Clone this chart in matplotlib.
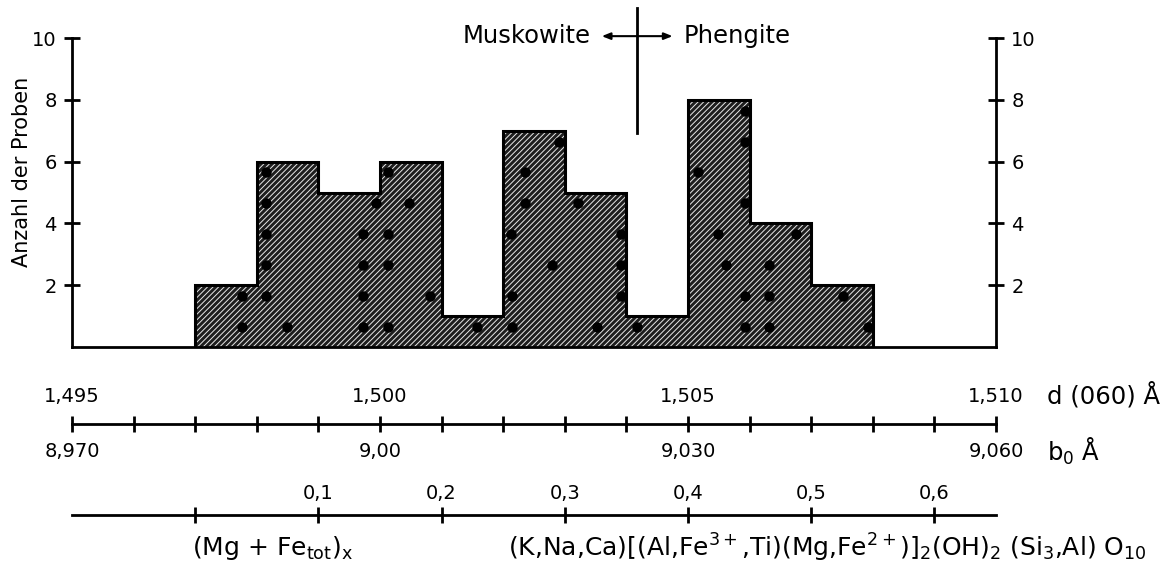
import numpy as np
import matplotlib
matplotlib.use("Agg")
import matplotlib.pyplot as plt

# histogram of d(060) values, bins of 0.001 A
bin_edges = [1.497, 1.498, 1.499, 1.500, 1.501, 1.502, 1.503, 1.504, 1.505, 1.506, 1.507, 1.508]
counts = [2, 6, 5, 6, 1, 7, 5, 1, 8, 4, 2]

# single samples (dots): d(060) value and stack level in its bin
dot_d = [1.49776, 1.49776,
         1.49849, 1.49815, 1.49815, 1.49815, 1.49815, 1.49815,
         1.49972, 1.49972, 1.49972, 1.49972, 1.49993,
         1.50013, 1.50081, 1.50013, 1.50013, 1.50047, 1.50013,
         1.50157,
         1.50214, 1.50214, 1.50280, 1.50212, 1.50235, 1.50235, 1.50290,
         1.50352, 1.50392, 1.50392, 1.50392, 1.50321,
         1.50418,
         1.50592, 1.50592, 1.50562, 1.50548, 1.50592, 1.50517, 1.50592, 1.50592,
         1.50632, 1.50632, 1.50632, 1.50676,
         1.50793, 1.50751]
dot_level = [0, 1,
             0, 1, 2, 3, 4, 5,
             0, 1, 2, 3, 4,
             0, 1, 2, 3, 4, 5,
             0,
             0, 1, 2, 3, 4, 5, 6,
             0, 1, 2, 3, 4,
             0,
             0, 1, 2, 3, 4, 5, 6, 7,
             0, 1, 2, 3,
             0, 1]

d_range = (1.495, 1.510)
d_ticks = np.round(np.arange(1.495, 1.5105, 0.001), 3)
d_labels = ["1,495", "1,500", "1,505", "1,510"]
b0_ticks = [8.970, 9.000, 9.030, 9.060]
b0_labels = ["8,970", "9,00", "9,030", "9,060"]

# (Mg + Fe_tot)_x scale: 0 at d = 1.497, 0.1 per 0.002 A
comp_zero_d = 1.497
comp_per_d = 50.0
comp_ticks = [0.0, 0.1, 0.2, 0.3, 0.4, 0.5, 0.6]
comp_labels = ["", "0,1", "0,2", "0,3", "0,4", "0,5", "0,6"]

y_ticks = [2, 4, 6, 8, 10]
boundary_d = 1.50418

plt.rcParams["font.family"] = "DejaVu Sans"
plt.rcParams["hatch.linewidth"] = 0.7
plt.rcParams["axes.linewidth"] = 2

W, H = 1170, 568
fig = plt.figure(figsize=(W / 100, H / 100), dpi=100)


def fx(px):
    return px / W


def fy(py):
    return 1 - py / H


# main histogram
ax = fig.add_axes([fx(72), fy(347), fx(996) - fx(72), fy(38) - fy(347)])
ax.stairs(counts, bin_edges, fill=True, facecolor="#1e1e1e", edgecolor="#e8e8e8",
          hatch="//////", linewidth=0)
ax.stairs(counts, bin_edges, color="black", linewidth=2.2)
ax.plot(dot_d, np.array(dot_level) + 0.65, "o", color="black", ms=7.5, mec="none")

ax.set_xlim(*d_range)
ax.set_ylim(0, 10)
ax.set_xticks([])
ax.set_yticks(y_ticks)
ax.tick_params(axis="y", direction="inout", length=12, width=2, labelsize=14,
               left=True, right=True, labelright=True, pad=5)
ax.spines["top"].set_visible(False)
ax.set_ylabel("Anzahl der Proben", fontsize=15)
ax.yaxis.set_label_coords(-0.043, 0.566)

# Muskowite / Phengite divider
ax.plot([boundary_d, boundary_d], [6.94, 10.97], color="black", lw=2, clip_on=False)
ax.annotate("", xy=(1.5036, 10.06), xytext=(1.50475, 10.06), annotation_clip=False,
            arrowprops=dict(arrowstyle="<|-|>,head_length=0.5,head_width=0.2",
                            color="black", lw=1.5, shrinkA=0, shrinkB=0))
ax.annotate("Muskowite", xy=(1.5036, 10.06), xytext=(-8, 0), textcoords="offset points",
            ha="right", va="center", fontsize=17.5, annotation_clip=False)
ax.annotate("Phengite", xy=(1.50475, 10.06), xytext=(8, 0), textcoords="offset points",
            ha="left", va="center", fontsize=17.5, annotation_clip=False)

# d(060) / b0 scale
ax2 = fig.add_axes([fx(72), fy(424), fx(996) - fx(72), 0.0001])
ax2.set_xlim(*d_range)
ax2.set_yticks([])
for s in ["top", "left", "right"]:
    ax2.spines[s].set_visible(False)
ax2.set_xticks(d_ticks)
ax2.set_xticklabels([d_labels[i // 5] if i % 5 == 0 else "" for i in range(len(d_ticks))])
ax2.tick_params(axis="x", direction="inout", length=12, width=2, bottom=True, top=False,
                labelbottom=False, labeltop=True, labelsize=14, pad=7)
sec = ax2.secondary_xaxis("bottom", functions=(lambda d: d * 6, lambda b: b / 6))
sec.set_xticks(b0_ticks)
sec.set_xticklabels(b0_labels)
sec.tick_params(axis="x", direction="inout", length=12, width=0, labelsize=14, pad=7)
sec.spines["bottom"].set_visible(False)
ax2.annotate("d (060) Å", xy=(1, 0), xycoords="axes fraction", xytext=(37, 21),
             textcoords="offset points", ha="left", va="center", fontsize=17.5)
ax2.annotate("b$_0$ Å", xy=(1, 0), xycoords="axes fraction", xytext=(37, -20),
             textcoords="offset points", ha="left", va="center", fontsize=17.5)

# composition scale
ax3 = fig.add_axes([fx(72), fy(515), fx(996) - fx(72), 0.0001])
ax3.set_xlim((d_range[0] - comp_zero_d) * comp_per_d, (d_range[1] - comp_zero_d) * comp_per_d)
ax3.set_yticks([])
for s in ["top", "left", "right"]:
    ax3.spines[s].set_visible(False)
ax3.set_xticks(comp_ticks)
ax3.set_xticklabels(comp_labels)
ax3.tick_params(axis="x", direction="inout", length=11, width=2, bottom=True, top=False,
                labelbottom=False, labeltop=True, labelsize=14, pad=3)
ax3.annotate(r"(Mg + Fe$_{\rm tot}$)$_{\rm x}$", xy=(0, 0), xytext=(-2, -24),
             textcoords="offset points", ha="left", va="center", fontsize=18)
ax3.annotate(r"(K,Na,Ca)[(Al,Fe$^{3+}$,Ti)(Mg,Fe$^{2+}$)]$_2$(OH)$_2$ (Si$_3$,Al) O$_{10}$",
             xy=(0.254, 0), xytext=(0, -24), textcoords="offset points",
             ha="left", va="center", fontsize=18, annotation_clip=False)

fig.savefig("out.png", dpi=100)
